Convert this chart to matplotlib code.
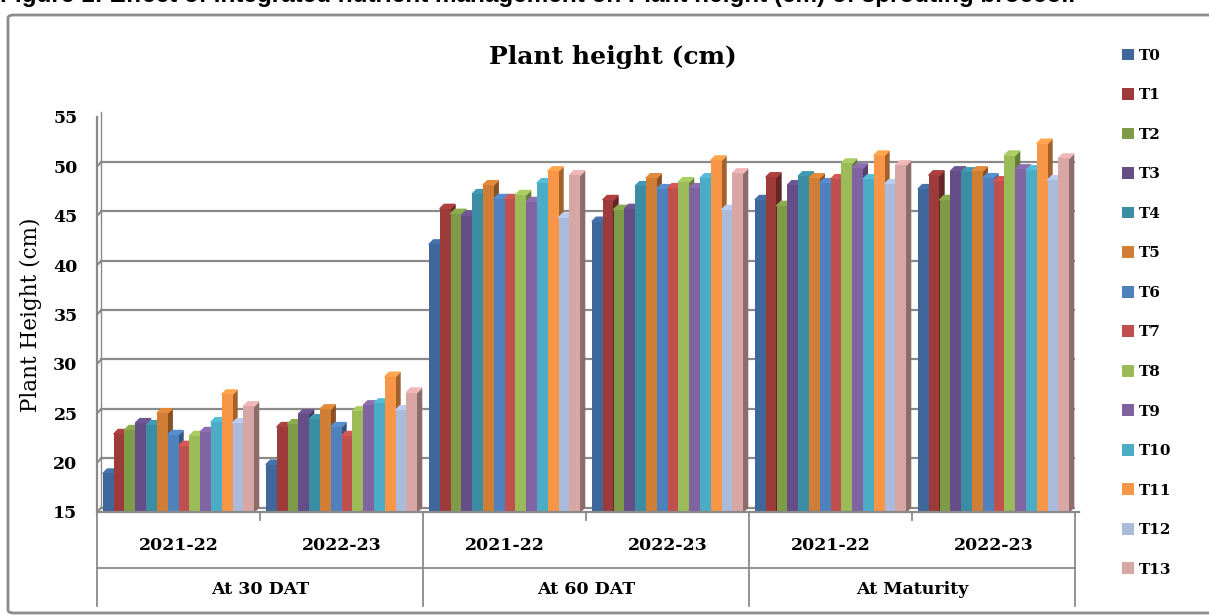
import numpy as np
import matplotlib
matplotlib.use("Agg")
import matplotlib.pyplot as plt
from matplotlib.patches import Polygon, FancyBboxPatch
import matplotlib.colors as mcolors

# data
treatments = ["T0", "T1", "T2", "T3", "T4", "T5", "T6",
              "T7", "T8", "T9", "T10", "T11", "T12", "T13"]
years = ["2021-22", "2022-23", "2021-22", "2022-23", "2021-22", "2022-23"]
stages = ["At 30 DAT", "At 60 DAT", "At Maturity"]

dat30_2122 = [18.9, 22.9, 23.3, 24.0, 23.8, 25.0, 22.8, 21.7, 22.7, 23.1, 24.1, 26.9, 24.0, 25.7]
dat30_2223 = [19.8, 23.6, 23.9, 24.9, 24.4, 25.4, 23.6, 22.7, 25.2, 25.8, 26.0, 28.7, 25.3, 27.1]
dat60_2122 = [42.1, 45.7, 45.2, 45.0, 47.2, 48.1, 46.7, 46.7, 47.1, 46.4, 48.3, 49.5, 44.8, 49.1]
dat60_2223 = [44.4, 46.6, 45.6, 45.7, 48.0, 48.8, 47.7, 47.8, 48.4, 47.8, 48.8, 50.6, 45.6, 49.3]
mat_2122 = [46.6, 48.9, 46.0, 48.1, 49.0, 48.8, 48.3, 48.7, 50.3, 49.8, 48.7, 51.1, 48.2, 50.1]
mat_2223 = [47.7, 49.1, 46.6, 49.5, 49.4, 49.5, 48.8, 48.5, 51.1, 49.7, 49.6, 52.3, 48.6, 50.8]

groups = [dat30_2122, dat30_2223, dat60_2122, dat60_2223, mat_2122, mat_2223]
values = np.array(groups)  # shape (6, 14)

colors = ["#3F679B", "#9C3B39", "#7E9B47", "#654E87", "#3A8DA2", "#D07D36", "#4F81BD",
          "#C0504D", "#9BBB59", "#8064A2", "#4BACC6", "#F79646", "#AABADB", "#D9A6A6"]

W, H = 1209, 615
fig = plt.figure(figsize=(W / 100, H / 100), dpi=100)

# outer chart border
fig.patches.append(FancyBboxPatch((8 / W, 2 / H), 1.2, (H - 15) / H - 2 / H,
                                  boxstyle="round,pad=0,rounding_size=0.005",
                                  transform=fig.transFigure, fill=False,
                                  edgecolor="#8c8c8c", lw=2))
# clipped caption at the very top (only its lower part shows)
fig.text(0.0, 1 - 2 / H, "Figure 1: Effect of integrated nutrient management on Plant height (cm) of sprouting broccoli",
         fontsize=17.5, fontweight="bold", family="Liberation Sans", va="baseline", ha="left")

left, right, bot, top = 97, 1075, 512, 117
ax = fig.add_axes([left / W, 1 - bot / H, (right - left) / W, (bot - top) / H])
ymin, ymax = 15, 55
ax.set_ylim(ymin, ymax)
ax.set_xlim(0, 6)

px_x = 6 / (right - left)          # data units per pixel in x
px_y = (ymax - ymin) / (bot - top)  # data units per pixel in y
ddx, ddy = 4.5 * px_x, 4.5 * px_y  # 3D depth offset

for s in ax.spines.values():
    s.set_visible(False)
ax.set_xticks([])
ax.set_yticks(np.arange(15, 56, 5))
ax.set_yticklabels([str(v) for v in range(15, 56, 5)], family="DejaVu Serif",
                   fontweight="bold", fontsize=12.5)
ax.tick_params(axis="y", length=0, pad=14)
ax.set_ylabel("Plant Height (cm)", family="DejaVu Serif", fontsize=15.5, labelpad=8)

# back wall gridlines with 3D offset
for v in range(15, 56, 5):
    ax.plot([ddx, 6 + ddx * 0.2], [v + ddy, v + ddy], color="#8a8a8a", lw=1.6, zorder=1)
    ax.plot([0, ddx], [v, v + ddy], color="#8a8a8a", lw=1.6, zorder=1)
ax.plot([0, 0], [ymin, ymax], color="#8a8a8a", lw=1.6, zorder=1, clip_on=False)
ax.plot([ddx, ddx], [ymin + ddy, ymax + ddy], color="#8a8a8a", lw=1.0, zorder=1, clip_on=False)

# bars
n = len(treatments)
bw = 10.8 * px_x
for g in range(len(groups)):
    start = g + 0.5 - n * bw / 2
    for i in range(n):
        x0 = start + i * bw
        v = values[g, i]
        z = 3 + i * 0.01
        c = colors[i]
        dark = np.array(mcolors.to_rgb(c)) * 0.65
        light = np.clip(np.array(mcolors.to_rgb(c)) * 1.1, 0, 1)
        ax.bar(x0, v - ymin, bw, bottom=ymin, align="edge", color=c, zorder=z,
               label=treatments[i] if g == 0 else None)
        side = Polygon([(x0 + bw, ymin), (x0 + bw, v), (x0 + bw + ddx, v + ddy),
                        (x0 + bw + ddx, ymin + ddy)], closed=True, color=dark, zorder=z - 0.005)
        topf = Polygon([(x0, v), (x0 + bw, v), (x0 + bw + ddx, v + ddy), (x0 + ddx, v + ddy)],
                       closed=True, color=light, zorder=z - 0.005)
        ax.add_patch(side)
        ax.add_patch(topf)

# floor line
ax.plot([0, 6 + ddx], [ymin, ymin], color="#8a8a8a", lw=1.6, zorder=5, clip_on=False)

ax.text(0.527, 1.153, "Plant height (cm)", transform=ax.transAxes, ha="center", va="center",
        family="DejaVu Serif", fontweight="bold", fontsize=18)

# multi-level category axis
trans = ax.get_xaxis_transform()
yr_y = -(545 - bot) / (bot - top)
st_y = -(590 - bot) / (bot - top)
mid_y = -(568 - bot) / (bot - top)
end_y = -(606 - bot) / (bot - top)
for g, yr in enumerate(years):
    ax.text(g + 0.5, yr_y, yr, transform=trans, ha="center", va="center",
            family="DejaVu Serif", fontweight="bold", fontsize=12.5)
for k, st in enumerate(stages):
    ax.text(2 * k + 1, st_y, st, transform=trans, ha="center", va="center",
            family="DejaVu Serif", fontweight="bold", fontsize=12.5)
for xb in [0, 2, 4, 6]:
    ax.plot([xb, xb], [0, end_y], transform=trans, color="#8a8a8a", lw=1.3, clip_on=False)
for xb in [1, 3, 5]:
    ax.plot([xb, xb], [0, -8 / (bot - top)], transform=trans, color="#8a8a8a", lw=1.3, clip_on=False)
ax.plot([0, 6], [mid_y, mid_y], transform=trans, color="#8a8a8a", lw=1.3, clip_on=False)

# legend
leg = fig.legend(loc="upper left", bbox_to_anchor=(1108 / W, 1 - 35 / H), frameon=False,
                 prop={"family": "DejaVu Serif", "weight": "bold", "size": 11},
                 handlelength=0.8, handleheight=0.8, handletextpad=0.35, labelspacing=1.66)

fig.savefig("out.png", dpi=100)
